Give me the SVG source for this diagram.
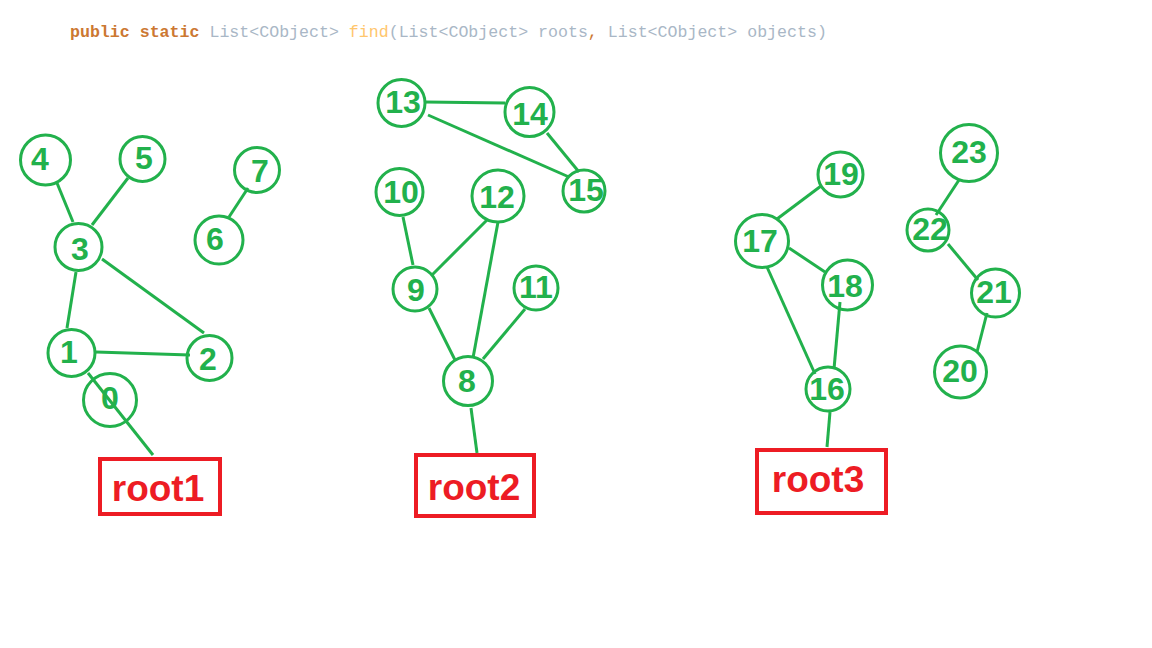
<svg xmlns="http://www.w3.org/2000/svg" width="1152" height="648" viewBox="0 0 1152 648">
<style>
.n circle{fill:none;stroke:#22b14c;stroke-width:3}
.n text{font-family:"Liberation Sans",Arial,sans-serif;font-weight:bold;font-size:32px;fill:#22b14c;text-anchor:middle}
.e line{stroke:#22b14c;stroke-width:3}
.r rect{fill:none;stroke:#ed1c24;stroke-width:4}
.r text{font-family:"Liberation Sans",Arial,sans-serif;font-weight:bold;font-size:37px;fill:#ed1c24;text-anchor:middle}
.code{font-family:"Liberation Mono","Courier New",monospace;font-size:16.6px}
</style>
<rect width="1152" height="648" fill="#fff"/>
<text class="code" x="70" y="37" xml:space="preserve"><tspan fill="#cc7832" font-weight="bold">public static </tspan><tspan fill="#a9b7c6">List&lt;CObject&gt; </tspan><tspan fill="#ffc66d">find</tspan><tspan fill="#a9b7c6">(List&lt;CObject&gt; roots</tspan><tspan fill="#cc7832">, </tspan><tspan fill="#a9b7c6">List&lt;CObject&gt; objects)</tspan></text>
<g class="e" id="edges">
<line x1="57" y1="183" x2="73" y2="222"/>
<line x1="128" y1="178" x2="92" y2="225"/>
<line x1="248" y1="188" x2="229" y2="217"/>
<line x1="76" y1="272" x2="67" y2="328"/>
<line x1="102" y1="259" x2="204" y2="333"/>
<line x1="96" y1="352" x2="190" y2="355"/>
<line x1="88" y1="373" x2="153" y2="455"/>
<line x1="425" y1="102" x2="505" y2="103"/>
<line x1="428" y1="115" x2="569" y2="177"/>
<line x1="547" y1="133" x2="579" y2="172"/>
<line x1="403" y1="217" x2="413" y2="265"/>
<line x1="487" y1="220" x2="432" y2="275"/>
<line x1="498" y1="222" x2="473" y2="358"/>
<line x1="525" y1="309" x2="483" y2="359"/>
<line x1="429" y1="308" x2="455" y2="360"/>
<line x1="471" y1="408" x2="477" y2="453"/>
<line x1="821" y1="186" x2="777" y2="219"/>
<line x1="789" y1="248" x2="825" y2="272"/>
<line x1="767" y1="267" x2="815" y2="374"/>
<line x1="840" y1="302" x2="834" y2="369"/>
<line x1="830" y1="412" x2="827" y2="447"/>
<line x1="959" y1="180" x2="936" y2="215"/>
<line x1="948" y1="244" x2="978" y2="280"/>
<line x1="987" y1="313" x2="977" y2="352"/>
</g>
<g class="n" id="n4"><circle cx="45.5" cy="160" r="25"/><text x="40" y="170">4</text></g>
<g class="n" id="n5"><circle cx="142.5" cy="159" r="22.5"/><text x="144" y="169">5</text></g>
<g class="n" id="n7"><circle cx="257" cy="170" r="22.5"/><text x="260" y="182">7</text></g>
<g class="n" id="n6"><circle cx="219" cy="240" r="24"/><text x="215" y="250">6</text></g>
<g class="n" id="n3"><circle cx="78.5" cy="247" r="23.5"/><text x="80" y="260">3</text></g>
<g class="n" id="n1"><circle cx="71.5" cy="353" r="23.5"/><text x="69" y="363">1</text></g>
<g class="n" id="n2"><circle cx="209.5" cy="358" r="22.5"/><text x="208" y="370">2</text></g>
<g class="n" id="n0"><circle cx="110" cy="400" r="26.5"/><text x="110" y="409">0</text></g>
<g class="n" id="n13"><circle cx="401.5" cy="103" r="23.5"/><text x="403" y="113">13</text></g>
<g class="n" id="n14"><circle cx="529.5" cy="112" r="24.5"/><text x="530" y="125">14</text></g>
<g class="n" id="n15"><circle cx="584" cy="191" r="21"/><text x="586" y="201">15</text></g>
<g class="n" id="n10"><circle cx="399.5" cy="192" r="23.5"/><text x="401" y="203">10</text></g>
<g class="n" id="n12"><circle cx="498" cy="196" r="26"/><text x="497" y="208">12</text></g>
<g class="n" id="n9"><circle cx="415" cy="289" r="22"/><text x="416" y="301">9</text></g>
<g class="n" id="n11"><circle cx="536" cy="288" r="22"/><text x="536" y="298">11</text></g>
<g class="n" id="n8"><circle cx="468" cy="381" r="24.5"/><text x="467" y="392">8</text></g>
<g class="n" id="n19"><circle cx="840.5" cy="174.5" r="22.5"/><text x="841" y="185">19</text></g>
<g class="n" id="n17"><circle cx="762" cy="241" r="26.5"/><text x="760" y="252">17</text></g>
<g class="n" id="n18"><circle cx="847.5" cy="285" r="25"/><text x="845" y="297">18</text></g>
<g class="n" id="n16"><circle cx="828" cy="389" r="22"/><text x="827" y="400">16</text></g>
<g class="n" id="n23"><circle cx="969" cy="153" r="28.5"/><text x="969" y="163">23</text></g>
<g class="n" id="n22"><circle cx="928" cy="230" r="21"/><text x="930" y="240">22</text></g>
<g class="n" id="n21"><circle cx="995.5" cy="293" r="24"/><text x="994" y="303">21</text></g>
<g class="n" id="n20"><circle cx="960.5" cy="372" r="26"/><text x="960" y="382">20</text></g>
<g class="r" id="root1"><rect x="100" y="459" width="120" height="55"/><text x="158" y="501">root1</text></g>
<g class="r" id="root2"><rect x="416" y="455" width="118" height="61"/><text x="474" y="500">root2</text></g>
<g class="r" id="root3"><rect x="757" y="450" width="129" height="63"/><text x="818" y="492">root3</text></g>
</svg>
